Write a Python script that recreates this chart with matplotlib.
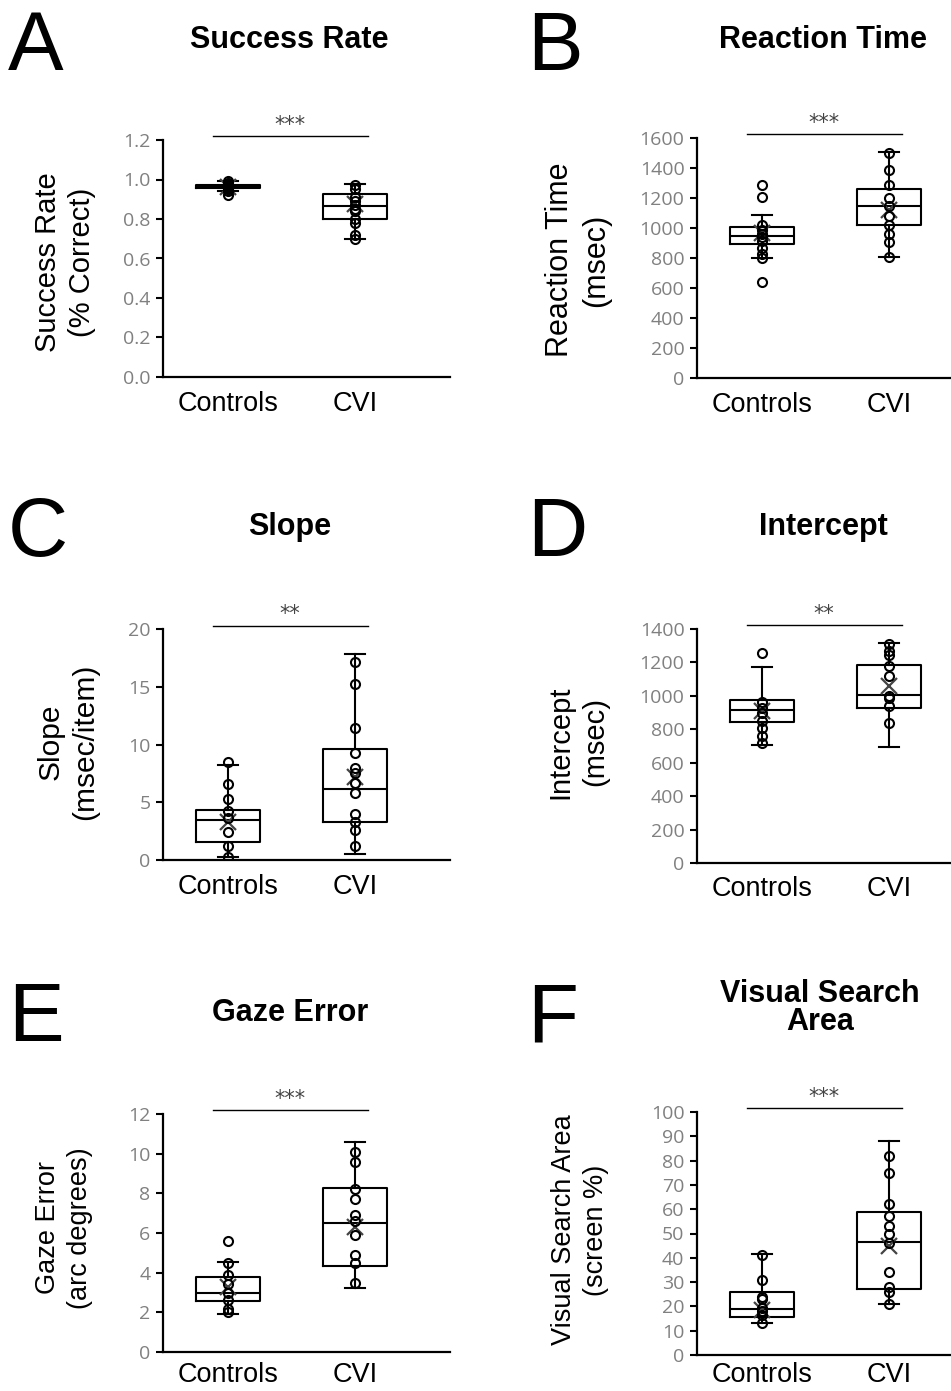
import matplotlib.pyplot as plt
from matplotlib.transforms import blended_transform_factory

W, H = 951, 1391
groups = ['Controls', 'CVI']

# box stats per group: [whisker low, q1, median, q3, whisker high]
# A - Success Rate
sr_box = [[0.94, 0.955, 0.962, 0.972, 0.99], [0.70, 0.80, 0.867, 0.926, 0.975]]
sr_mean = [0.96, 0.874]
sr_ctrl = [0.99, 0.98, 0.97, 0.97, 0.96, 0.96, 0.96, 0.95, 0.95, 0.94, 0.92]
sr_cvi = [0.97, 0.95, 0.91, 0.89, 0.87, 0.85, 0.84, 0.80, 0.78, 0.72, 0.70]

# B - Reaction Time
rt_box = [[798, 894, 947, 1009, 1085], [809, 1021, 1150, 1261, 1504]]
rt_mean = [965, 1121]
rt_ctrl = [1290, 1210, 1020, 985, 960, 940, 915, 870, 830, 800, 640]
rt_cvi = [1500, 1390, 1290, 1200, 1150, 1080, 1020, 960, 910, 810]

# C - Slope
sl_box = [[0.3, 1.53, 3.47, 4.34, 8.2], [0.52, 3.27, 6.13, 9.6, 17.8]]
sl_mean = [3.3, 7.2]
sl_ctrl = [8.5, 6.6, 5.3, 4.2, 3.6, 2.4, 1.2, 0.3]
sl_cvi = [17.1, 15.2, 11.4, 9.3, 8.0, 7.5, 6.7, 5.8, 4.0, 3.3, 2.6, 1.2]

# D - Intercept
ic_box = [[704, 842, 917, 977, 1171], [694, 927, 1007, 1185, 1316]]
ic_mean = [907, 1057]
ic_ctrl = [1255, 965, 930, 900, 850, 810, 760, 720]
ic_cvi = [1310, 1270, 1245, 1180, 1120, 1000, 990, 940, 835]

# E - Gaze Error
ge_box = [[1.94, 2.57, 2.95, 3.79, 4.54], [3.25, 4.36, 6.51, 8.25, 10.6]]
ge_mean = [3.28, 6.3]
ge_ctrl = [5.6, 4.5, 3.9, 3.45, 3.0, 2.6, 2.15, 2.0]
ge_cvi = [10.1, 9.6, 8.2, 7.7, 6.9, 6.6, 5.9, 4.9, 4.5, 3.5]

# F - Visual Search Area
va_box = [[13.0, 15.5, 19.1, 25.8, 41.6], [21.0, 27.1, 46.4, 58.8, 88.0]]
va_mean = [18.5, 45.0]
va_ctrl = [41, 31, 24, 23, 19.5, 18, 16.5, 13]
va_cvi = [82, 75, 62, 57, 53, 50, 46, 34, 28, 26, 21]

stars = ['***', '***', '**', '**', '***', '***']


def fx(x):
    return x / W


def fy(y):
    return 1 - y / H


fig = plt.figure(figsize=(W / 100, H / 100), dpi=100)
plt.rcParams['font.family'] = ['Liberation Sans', 'DejaVu Sans']

# layout (pixels): left, right, top, bottom of each axes; c1 = pixel x of first box
panels = [
    dict(letter='A', title='Success Rate', ylabel='Success Rate\n(% Correct)', box=sr_box, mean=sr_mean,
         pts=[sr_ctrl, sr_cvi], ymax=1.2, step=0.2, fmt='{:.1f}', rect=(163, 450, 140, 377), c1=228,
         lab=(65, 262, 21), tit=(289, 40), let=(8, 70), xpad=10),
    dict(letter='B', title='Reaction Time', ylabel='Reaction Time\n(msec)', box=rt_box, mean=rt_mean,
         pts=[rt_ctrl, rt_cvi], ymax=1600, step=200, fmt='{:.0f}', rect=(697, 950, 138, 378), c1=762,
         lab=(578, 260, 22), tit=(823, 40), let=(527, 70), xpad=10),
    dict(letter='C', title='Slope', ylabel='Slope\n(msec/item)', box=sl_box, mean=sl_mean,
         pts=[sl_ctrl, sl_cvi], ymax=20, step=5, fmt='{:.0f}', rect=(163, 450, 629, 860), c1=228,
         lab=(68, 742, 21.5), tit=(290, 527), let=(8, 556), xpad=10),
    dict(letter='D', title='Intercept', ylabel='Intercept\n(msec)', box=ic_box, mean=ic_mean,
         pts=[ic_ctrl, ic_cvi], ymax=1400, step=200, fmt='{:.0f}', rect=(697, 950, 629, 863), c1=762,
         lab=(578, 742, 21), tit=(823, 527), let=(527, 556), xpad=9),
    dict(letter='E', title='Gaze Error', ylabel='Gaze Error\n(arc degrees)', box=ge_box, mean=ge_mean,
         pts=[ge_ctrl, ge_cvi], ymax=12, step=2, fmt='{:.0f}', rect=(163, 450, 1114, 1352), c1=228,
         lab=(64, 1228, 19.5), tit=(290, 1013), let=(8, 1041), xpad=7),
    dict(letter='F', title='Visual Search\nArea', ylabel='Visual Search Area\n(screen %)', box=va_box,
         mean=va_mean, pts=[va_ctrl, va_cvi], ymax=100, step=10, fmt='{:.0f}', rect=(697, 950, 1112, 1355),
         c1=762, lab=(580, 1230, 19.5), tit=(820, 1008), let=(527, 1041), xpad=5),
]

for p, st in zip(panels, stars):
    l, r, t, b = p['rect']
    ax = fig.add_axes([fx(l), fy(b), (r - l) / W, (b - t) / H])
    stats = []
    for bx, m, g in zip(p['box'], p['mean'], groups):
        stats.append(dict(whislo=bx[0], q1=bx[1], med=bx[2], q3=bx[3], whishi=bx[4],
                          mean=m, label=g, fliers=[]))
    line = dict(color='black', lw=1.5)
    ax.bxp(stats, positions=[1, 2], widths=0.5, capwidths=0.16, showmeans=True, showfliers=False,
           boxprops=line, whiskerprops=line, capprops=line, medianprops=line,
           meanprops=dict(marker='x', markeredgecolor='#444444', markersize=11, markeredgewidth=1.6))
    for i, vals in enumerate(p['pts']):
        ax.plot([i + 1] * len(vals), vals, 'o', mfc='none', mec='black', ms=6.5, mew=1.5, zorder=3)

    unit = 127.0
    c1 = p['c1']
    ax.set_xlim(1 - (c1 - l) / unit, 1 + (r - c1) / unit)
    ax.set_ylim(0, p['ymax'])
    n = int(round(p['ymax'] / p['step']))
    ticks = [k * p['step'] for k in range(n + 1)]
    ax.set_yticks(ticks)
    ax.set_yticklabels([p['fmt'].format(v) for v in ticks], fontfamily='Open Sans', fontsize=14,
                       color='#808080')
    for s in ['top', 'right']:
        ax.spines[s].set_visible(False)
    for s in ['left', 'bottom']:
        ax.spines[s].set_linewidth(1.6)
    ax.tick_params(axis='y', direction='out', length=5, width=1.5, pad=4)
    ax.tick_params(axis='x', length=0, pad=p['xpad'], labelsize=19.5)

    # significance bar
    tr = blended_transform_factory(ax.transData, ax.transAxes)
    ax.plot([0.88, 2.1], [1.015, 1.015], color='black', lw=1.0, transform=tr, clip_on=False)
    ax.text(1.49, 1.022, st, transform=tr, ha='center', va='bottom', fontsize=15,
            fontfamily='DejaVu Sans', color='#444444')

    lx, ly, ls = p['lab']
    fig.text(fx(lx), fy(ly), p['ylabel'], rotation=90, ha='center', va='center',
             multialignment='center', fontsize=ls, linespacing=1.3)
    tx, ty = p['tit']
    fig.text(fx(tx), fy(ty), p['title'], ha='center', va='center', multialignment='center',
             fontsize=22, fontweight='bold', linespacing=0.95)
    gx, gy = p['let']
    fig.text(fx(gx), fy(gy), p['letter'], ha='left', va='baseline', fontsize=60)

fig.savefig('out.png', dpi=100)
